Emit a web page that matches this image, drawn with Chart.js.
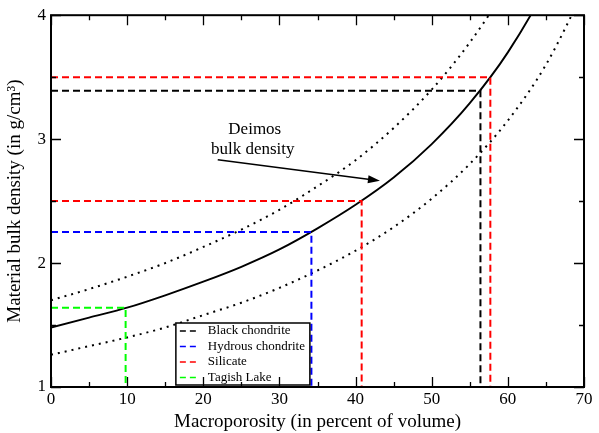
<!DOCTYPE html>
<html>
<head>
<meta charset="utf-8">
<script src="https://cdn.jsdelivr.net/npm/chart.js@4.4.1/dist/chart.umd.min.js"></script>
<style>
  html, body { margin: 0; padding: 0; background: #fff; }
  #wrap { width: 599px; height: 433px; position: relative; }
</style>
</head>
<body>
<div id="wrap"><canvas id="c"></canvas></div>
<script>
const porosity = [0, 5, 10, 15, 20, 25, 30, 35, 40, 45, 50, 55, 60, 65, 70];
// Solid curve: Deimos bulk density -> material density
const deimosCurve = [1.48, 1.56, 1.64, 1.74, 1.85, 1.97, 2.11, 2.28, 2.47, 2.69, 2.96, 3.29, 3.70, 4.23, 4.93];
// Dotted curves: upper and lower uncertainty bounds
const upperCurve = [1.70, 1.79, 1.89, 2.00, 2.13, 2.27, 2.43, 2.62, 2.83, 3.09, 3.40, 3.78, 4.25, 4.86, 5.67];
const lowerCurve = [1.26, 1.33, 1.40, 1.48, 1.58, 1.68, 1.80, 1.94, 2.10, 2.29, 2.52, 2.80, 3.15, 3.60, 4.20];

// Meteorite classes: material density and resulting macroporosity
const classNames = ['Black chondrite', 'Hydrous chondrite', 'Silicate', 'Tagish Lake'];
const classColors = ['#000000', '#0000ff', '#ff0000', '#00ff00'];
const classDensity = [[3.39], [2.25], [3.5, 2.5], [1.64]];
const classPorosity = [[56.4], [34.2], [57.7, 40.8], [9.8]];

const xTicks = [0, 10, 20, 30, 40, 50, 60, 70];
const yTicks = [1, 2, 3, 4];

const annotationLines = ['Deimos', 'bulk density'];
const annotationTextAt = [26.5, 3.0];
const arrowFrom = [21.9, 2.833];
const arrowTo = [43.2, 2.664];

const SERIF = "'Liberation Serif', 'Times New Roman', 'DejaVu Serif', serif";

function curvePoints(ys) {
  return porosity.map((x, i) => ({ x: x, y: ys[i] }));
}
function classPoints(k) {
  const pts = [];
  classDensity[k].forEach((d, j) => {
    const p = classPorosity[k][j];
    if (j > 0) pts.push({ x: NaN, y: NaN });
    pts.push({ x: 0, y: d }, { x: p, y: d }, { x: p, y: 1 });
  });
  return pts;
}

const datasets = [];
classNames.forEach((name, k) => {
  datasets.push({
    label: name,
    data: classPoints(k),
    borderColor: classColors[k],
    borderWidth: 2,
    borderDash: [7, 4],
    pointRadius: 0,
    tension: 0,
    spanGaps: false,
    legendEntry: true
  });
});
datasets.push({
  label: 'Upper bound', data: curvePoints(upperCurve), borderColor: '#000',
  borderWidth: 2, borderDash: [2, 5], pointRadius: 0, cubicInterpolationMode: 'monotone'
});
datasets.push({
  label: 'Lower bound', data: curvePoints(lowerCurve), borderColor: '#000',
  borderWidth: 2, borderDash: [2, 5], pointRadius: 0, cubicInterpolationMode: 'monotone'
});
datasets.push({
  label: 'Deimos', data: curvePoints(deimosCurve), borderColor: '#000',
  borderWidth: 1.9, pointRadius: 0, cubicInterpolationMode: 'monotone'
});

const framePlugin = {
  id: 'frame',
  afterDatasetsDraw(chart) {
    const ctx = chart.ctx;
    const xs = chart.scales.x, ys = chart.scales.y;
    const a = chart.chartArea;
    ctx.save();
    // annotation text
    ctx.fillStyle = '#000';
    ctx.font = '17px ' + SERIF;
    ctx.textAlign = 'center';
    ctx.textBaseline = 'middle';
    const tx = xs.getPixelForValue(annotationTextAt[0]);
    const ty = ys.getPixelForValue(annotationTextAt[1]);
    ctx.fillText(annotationLines[0], tx + 2, ty - 10);
    ctx.fillText(annotationLines[1], tx, ty + 10);
    // arrow
    const x1 = xs.getPixelForValue(arrowFrom[0]), y1 = ys.getPixelForValue(arrowFrom[1]);
    const x2 = xs.getPixelForValue(arrowTo[0]), y2 = ys.getPixelForValue(arrowTo[1]);
    const ang = Math.atan2(y2 - y1, x2 - x1);
    ctx.strokeStyle = '#000';
    ctx.lineWidth = 1.6;
    ctx.beginPath();
    ctx.moveTo(x1, y1);
    ctx.lineTo(x2 - 8 * Math.cos(ang), y2 - 8 * Math.sin(ang));
    ctx.stroke();
    ctx.beginPath();
    ctx.moveTo(x2, y2);
    ctx.lineTo(x2 - 12 * Math.cos(ang) + 4 * Math.sin(ang), y2 - 12 * Math.sin(ang) - 4 * Math.cos(ang));
    ctx.lineTo(x2 - 12 * Math.cos(ang) - 4 * Math.sin(ang), y2 - 12 * Math.sin(ang) + 4 * Math.cos(ang));
    ctx.closePath();
    ctx.fill();

    // legend box
    const lx = xs.getPixelForValue(16.4), lw = 134;
    const rowH = 15.5, lh = 62;
    const ly = a.bottom - lh - 2;
    ctx.fillStyle = '#fff';
    ctx.fillRect(lx, ly, lw, lh);
    ctx.strokeStyle = '#000';
    ctx.lineWidth = 1.5;
    ctx.strokeRect(lx, ly, lw, lh);
    ctx.font = '13px ' + SERIF;
    ctx.textAlign = 'left';
    chart.data.datasets.filter(d => d.legendEntry).forEach((d, i) => {
      const cy = ly + 8 + i * rowH;
      ctx.strokeStyle = d.borderColor;
      ctx.lineWidth = 1.6;
      ctx.setLineDash([6, 4]);
      ctx.beginPath();
      ctx.moveTo(lx + 4, cy);
      ctx.lineTo(lx + 22, cy);
      ctx.stroke();
      ctx.setLineDash([]);
      ctx.fillStyle = '#000';
      ctx.fillText(d.label, lx + 32, cy);
    });

    // frame
    ctx.strokeStyle = '#000';
    ctx.lineWidth = 2;
    ctx.strokeRect(a.left, a.top, a.right - a.left, a.bottom - a.top);
    // inward ticks on all four sides
    ctx.lineWidth = 1.3;
    ctx.beginPath();
    for (let v = 0; v <= 70; v += 5) {
      const px = Math.round(xs.getPixelForValue(v)) + 0.5;
      const len = (v % 10 === 0) ? 10 : 5;
      ctx.moveTo(px, a.bottom); ctx.lineTo(px, a.bottom - len);
      ctx.moveTo(px, a.top); ctx.lineTo(px, a.top + len);
    }
    for (let v = 1; v <= 4.001; v += 0.5) {
      const py = Math.round(ys.getPixelForValue(v)) + 0.5;
      const len = (Math.abs(v - Math.round(v)) < 1e-6) ? 10 : 5;
      ctx.moveTo(a.left, py); ctx.lineTo(a.left + len, py);
      ctx.moveTo(a.right, py); ctx.lineTo(a.right - len, py);
    }
    ctx.stroke();
    ctx.restore();
  }
};

new Chart(document.getElementById('c'), {
  type: 'line',
  data: { datasets: datasets },
  options: {
    responsive: true,
    maintainAspectRatio: false,
    animation: false,
    events: [],
    layout: { padding: { top: 14, right: 15, left: 0, bottom: 0 } },
    plugins: { legend: { display: false }, tooltip: { enabled: false } },
    scales: {
      x: {
        type: 'linear', min: 0, max: 70,
        afterBuildTicks(s) { s.ticks = xTicks.map(v => ({ value: v })); },
        ticks: { color: '#000', font: { family: SERIF, size: 17 }, padding: 2, maxRotation: 0, autoSkip: false },
        grid: { display: false, drawTicks: false },
        border: { display: false },
        title: { display: true, text: 'Macroporosity (in percent of volume)', color: '#000',
                 font: { family: SERIF, size: 19 }, padding: { top: 0, bottom: 0 } },
        afterFit(s) { s.height = 46; }
      },
      y: {
        type: 'linear', min: 1, max: 4,
        afterBuildTicks(s) { s.ticks = yTicks.map(v => ({ value: v })); },
        ticks: { color: '#000', font: { family: SERIF, size: 17 }, padding: 5 },
        grid: { display: false, drawTicks: false },
        border: { display: false },
        title: { display: true, text: 'Material bulk density (in g/cm³)', color: '#000',
                 font: { family: SERIF, size: 19 }, padding: { top: 4, bottom: 0 } },
        afterFit(s) { s.width = 51; }
      }
    }
  },
  plugins: [framePlugin]
});
</script>
</body>
</html>
